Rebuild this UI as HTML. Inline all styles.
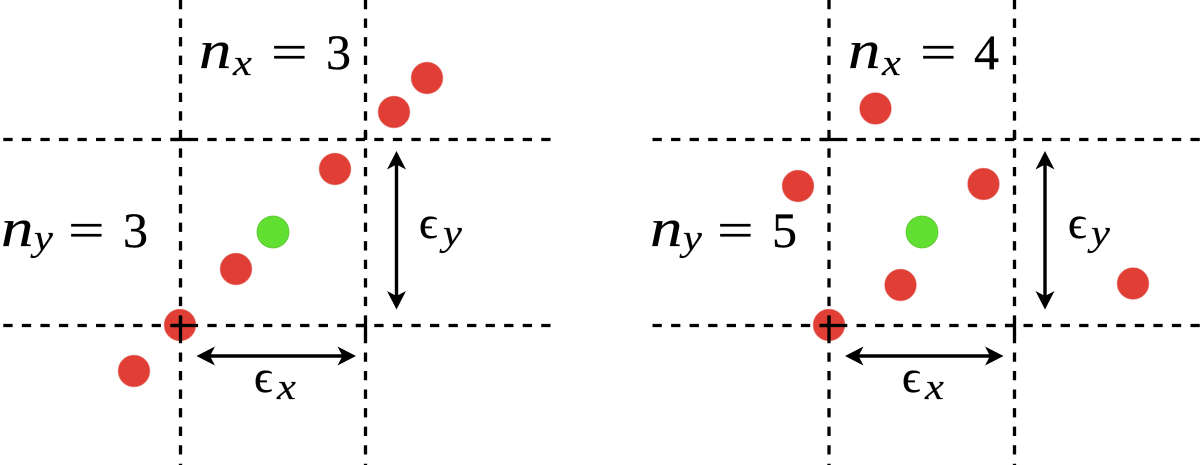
<!DOCTYPE html>
<html><head><meta charset="utf-8"><style>
html,body{margin:0;padding:0;background:#fff;width:1200px;height:465px;overflow:hidden}
#w{position:relative;width:1200px;height:465px;filter:blur(.35px)}
svg{display:block;position:absolute;left:0;top:0}
span{position:absolute;display:block;white-space:nowrap;line-height:1;color:#000;transform-origin:0 50%;font-family:Liberation Serif,serif}
.n{font-size:54px;font-style:italic;transform:scaleX(1.2);-webkit-text-stroke:.25px #000}
.s{font-size:37px;font-style:italic;transform:scaleX(1.15);-webkit-text-stroke:.15px #000}
.q{font-size:50px;transform:scaleX(1.3);-webkit-text-stroke:.2px #000}
.d{font-size:50px;-webkit-text-stroke:.35px #000}
.e{font-size:46px;-webkit-text-stroke:.3px #000}
.g{stroke:#000;stroke-width:3.3;fill:none}
.h{stroke-dasharray:9.3 9.25}
.a{stroke:#000;stroke-width:3.4;fill:none}
.r{fill:#e13e35;stroke:#e8a8a4;stroke-width:.6}
.l{fill:#62e032;stroke:#5cc436;stroke-width:.8}
</style></head><body>
<div id="w">
<svg width="1200" height="465" viewBox="0 0 1200 465" xmlns="http://www.w3.org/2000/svg">
<defs><path id="ah" d="M0 0L9.5 -18.5L0 -13.5L-9.5 -18.5Z" fill="#000" transform="rotate(180)"/></defs>

<circle class="r" cx="180" cy="325" r="16"/>
<circle class="r" cx="829" cy="325" r="16"/>

<path class="g h" d="M180.5 0V465M365.5 0V465M3.3 139.5H553M3.3 325.5H553"/>
<path class="g" d="M365.5 131.7V140M365.5 325V335M356 325.5H367M180.5 316V334M172 325.5H190M171 139.5H190"/>

<path class="g h" d="M829 0V465M1014.5 0V465M652.5 139.5H1200M652.5 325.5H1200"/>
<path class="g" d="M1014.5 131.7V140M1014.5 325V335M1005 325.5H1016M829 316V334M820 325.5H839M820 139.5H839"/>

<circle class="r" cx="427" cy="78" r="16"/>
<circle class="r" cx="394" cy="112" r="16"/>
<circle class="r" cx="335" cy="169" r="16"/>
<circle class="r" cx="236" cy="269" r="16"/>
<circle class="r" cx="134" cy="371" r="16"/>
<circle class="l" cx="273" cy="232" r="16"/>

<circle class="r" cx="875.5" cy="108.5" r="16"/>
<circle class="r" cx="798" cy="186" r="16"/>
<circle class="r" cx="983.5" cy="184" r="16"/>
<circle class="r" cx="900.5" cy="285" r="16"/>
<circle class="r" cx="1133" cy="283.5" r="16"/>
<circle class="l" cx="922" cy="232" r="16"/>

<path class="a" d="M396.5 160V300M208 356H345"/>
<use href="#ah" transform="translate(396.5 151)"/>
<use href="#ah" transform="translate(396.5 309.5) rotate(180)"/>
<use href="#ah" transform="translate(196.5 356) rotate(-90)"/>
<use href="#ah" transform="translate(356 356) rotate(90)"/>

<path class="a" d="M1045 160V300M857 356H993"/>
<use href="#ah" transform="translate(1045 151)"/>
<use href="#ah" transform="translate(1045 309.5) rotate(180)"/>
<use href="#ah" transform="translate(845 356) rotate(-90)"/>
<use href="#ah" transform="translate(1003.5 356) rotate(90)"/>
</svg>

<span class="n" style="left:199px;top:23px">n</span>
<span class="s" style="left:233px;top:45px">x</span>
<span class="q" style="left:271px;top:27px">=</span>
<span class="d" style="left:326px;top:27px">3</span>

<span class="n" style="left:1px;top:201px">n</span>
<span class="s" style="left:34px;top:220px">y</span>
<span class="q" style="left:68px;top:205px">=</span>
<span class="d" style="left:123px;top:205px">3</span>

<span class="e" style="left:419px;top:200px">ϵ</span>
<span class="s" style="left:443px;top:215px">y</span>
<span class="e" style="left:254px;top:354px">ϵ</span>
<span class="s" style="left:277px;top:369px">x</span>

<span class="n" style="left:848px;top:23px">n</span>
<span class="s" style="left:882px;top:45px">x</span>
<span class="q" style="left:920px;top:27px">=</span>
<span class="d" style="left:974px;top:27px">4</span>

<span class="n" style="left:650px;top:201px">n</span>
<span class="s" style="left:683px;top:220px">y</span>
<span class="q" style="left:717px;top:205px">=</span>
<span class="d" style="left:772px;top:205px">5</span>

<span class="e" style="left:1068px;top:200px">ϵ</span>
<span class="s" style="left:1091px;top:215px">y</span>
<span class="e" style="left:902px;top:354px">ϵ</span>
<span class="s" style="left:925px;top:369px">x</span>
</div>
</body></html>
